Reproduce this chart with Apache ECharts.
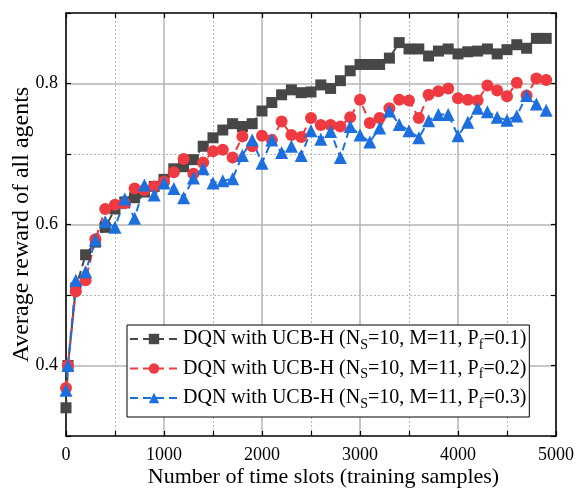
<!DOCTYPE html>
<html>
<head>
<meta charset="utf-8">
<script src="https://cdn.jsdelivr.net/npm/echarts@6/dist/echarts.min.js"></script>
<style>
  html, body { margin: 0; padding: 0; background: #fff; }
  #reward { width: 577px; height: 488px; }
</style>
</head>
<body>
<div id="reward"></div>
<script>
// training samples
const xs = [0, 20, 100, 200, 300, 400, 500, 600, 700, 800, 900, 1000, 1100, 1200, 1300, 1400, 1500, 1600, 1700, 1800, 1900,
  2000, 2100, 2200, 2300, 2400, 2500, 2600, 2700, 2800, 2900, 3000, 3100, 3200, 3300, 3400, 3500, 3600, 3700, 3800, 3900,
  4000, 4100, 4200, 4300, 4400, 4500, 4600, 4700, 4800, 4900];

const pf01 = [0.34, 0.40, 0.51, 0.557, 0.575, 0.596, 0.622, 0.632, 0.638, 0.646, 0.654, 0.664, 0.679, 0.682, 0.692, 0.711,
  0.723, 0.734, 0.743, 0.739, 0.743, 0.761, 0.773, 0.784, 0.791, 0.787, 0.788, 0.798, 0.793, 0.804, 0.818, 0.827, 0.827,
  0.827, 0.836, 0.858, 0.849, 0.849, 0.839, 0.846, 0.849, 0.842, 0.845, 0.846, 0.849, 0.842, 0.848, 0.855, 0.850, 0.864, 0.864];

const pf02 = [0.368, 0.40, 0.505, 0.521, 0.579, 0.622, 0.628, 0.63, 0.651, 0.649, 0.654, 0.661, 0.674, 0.693, 0.672, 0.688,
  0.704, 0.706, 0.695, 0.725, 0.711, 0.726, 0.720, 0.746, 0.727, 0.724, 0.751, 0.741, 0.741, 0.739, 0.752, 0.777, 0.744,
  0.751, 0.765, 0.777, 0.776, 0.751, 0.784, 0.789, 0.793, 0.779, 0.777, 0.776, 0.797, 0.790, 0.782, 0.801, 0.783, 0.807, 0.805];

const pf03 = [0.365, 0.40, 0.521, 0.533, 0.578, 0.604, 0.596, 0.636, 0.609, 0.656, 0.642, 0.659, 0.651, 0.638, 0.666, 0.679,
  0.659, 0.662, 0.665, 0.698, 0.720, 0.687, 0.720, 0.702, 0.711, 0.698, 0.733, 0.721, 0.732, 0.695, 0.739, 0.727, 0.717,
  0.737, 0.761, 0.742, 0.733, 0.723, 0.747, 0.756, 0.756, 0.726, 0.745, 0.765, 0.760, 0.752, 0.748, 0.754, 0.783, 0.771, 0.762];

const names = ['Pf=0.1', 'Pf=0.2', 'Pf=0.3'];
const legendText = {
  'Pf=0.1': 'DQN with UCB-H (N{s|S}=10, M=11, P{s|f}=0.1)',
  'Pf=0.2': 'DQN with UCB-H (N{s|S}=10, M=11, P{s|f}=0.2)',
  'Pf=0.3': 'DQN with UCB-H (N{s|S}=10, M=11, P{s|f}=0.3)'
};

const font = 'Liberation Serif';
const chart = echarts.init(document.getElementById('reward'));

const pairs = (ys) => xs.map((x, i) => [x, ys[i]]);

const lineSeries = (name, ys, color, symbol, size) => ({
  name: name,
  type: 'line',
  xAxisIndex: 0,
  yAxisIndex: 0,
  data: pairs(ys),
  symbol: symbol,
  symbolSize: size,
  showAllSymbol: true,
  lineStyle: { color: color, width: 2, type: [8, 5] },
  itemStyle: { color: color },
  emphasis: { disabled: true },
  z: 3
});

const tick = { show: true, inside: true, length: 5, lineStyle: { color: '#000', width: 1.2 } };
const frame = { show: true, onZero: false, lineStyle: { color: '#000', width: 1.5 } };

const option = {
  animation: false,
  grid: { left: 66, right: 21, top: 13, bottom: 52, outerBoundsMode: 'none', containLabel: false },
  legend: {
    orient: 'vertical',
    left: 127,
    top: 325,
    padding: [1, 3, 6, 2],
    itemGap: 3.5,
    itemWidth: 48,
    itemHeight: 13,
    backgroundColor: '#fff',
    borderColor: '#000',
    borderWidth: 1,
    borderRadius: 0,
    data: names,
    formatter: (n) => legendText[n],
    textStyle: {
      fontFamily: font,
      fontSize: 20,
      color: '#000',
      lineHeight: 22,
      rich: {
        s: { fontFamily: font, fontSize: 14, lineHeight: 26, verticalAlign: 'bottom', color: '#000' }
      }
    }
  },
  xAxis: [
    {
      type: 'value',
      min: 0,
      max: 5000,
      interval: 500,
      name: 'Number of time slots (training samples)',
      nameLocation: 'middle',
      nameMoveOverlap: false,
      nameGap: 30,
      nameTextStyle: { fontFamily: font, fontSize: 22, color: '#000', padding: [0, 0, 0, 25] },
      axisLine: frame,
      axisTick: tick,
      axisLabel: {
        fontFamily: font, fontSize: 18, color: '#000', margin: 10,
        formatter: (v) => (v % 1000 === 0 ? String(v) : '')
      },
      splitLine: { show: true, lineStyle: { color: ['#b5b5b5', 'transparent'], width: 1.5 } }
    },
    {
      type: 'value',
      position: 'top',
      min: 0,
      max: 5000,
      interval: 500,
      axisLine: frame,
      axisTick: tick,
      axisLabel: { show: false },
      splitLine: { show: true, lineStyle: { color: ['transparent', '#b5b5b5'], width: 1, type: [2, 2] } }
    }
  ],
  yAxis: [
    {
      type: 'value',
      min: 0.3,
      max: 0.9,
      interval: 0.1,
      name: 'Average reward of all agents',
      nameLocation: 'middle',
      nameMoveOverlap: false,
      nameGap: 32,
      nameTextStyle: { fontFamily: font, fontSize: 24, color: '#000' },
      axisLine: frame,
      axisTick: tick,
      axisLabel: {
        fontFamily: font, fontSize: 18, color: '#000', margin: 8,
        formatter: (v) => (Math.round(v * 10) % 2 === 0 ? v.toFixed(1) : '')
      },
      splitLine: { show: true, lineStyle: { color: ['transparent', '#b5b5b5'], width: 1.5 } }
    },
    {
      type: 'value',
      position: 'right',
      min: 0.3,
      max: 0.9,
      interval: 0.1,
      axisLine: frame,
      axisTick: tick,
      axisLabel: { show: false },
      splitLine: { show: true, lineStyle: { color: ['transparent', 'transparent', '#b5b5b5', 'transparent', '#b5b5b5', 'transparent', 'transparent'], width: 1, type: [2, 2] } }
    }
  ],
  series: [
    lineSeries(names[0], pf01, '#474747', 'rect', 11),
    lineSeries(names[1], pf02, '#ee3a40', 'circle', 12),
    lineSeries(names[2], pf03, '#1d6fdd', 'triangle', 13)
  ]
};

chart.setOption(option);
</script>
</body>
</html>
